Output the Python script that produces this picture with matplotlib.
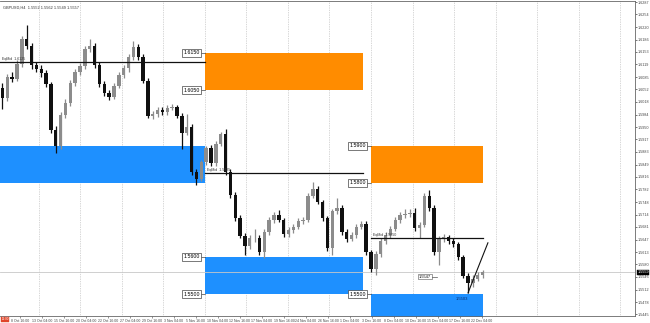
import numpy as np
import matplotlib
matplotlib.use("Agg")
import matplotlib.pyplot as plt

plt.rcParams["font.family"] = ["Liberation Sans", "DejaVu Sans"]

# GBPUSD H4 candles
opens = [1.6056, 1.6029, 1.6086, 1.6081, 1.6121, 1.6189, 1.6170, 1.6118, 1.6108, 1.6097,
         1.6067, 1.5943, 1.5900, 1.5983, 1.6016, 1.6070, 1.6099, 1.6116, 1.6162, 1.6170,
         1.6118, 1.6067, 1.6043, 1.6032, 1.6062, 1.6091, 1.6110, 1.6140, 1.6167, 1.6140,
         1.6075, 1.5981, 1.5986, 1.5997, 1.5991, 1.6002, 1.6005, 1.5981, 1.5935, 1.5951,
         1.5829, 1.5811, 1.5856, 1.5894, 1.5854, 1.5905, 1.5932, 1.5829, 1.5767, 1.5705,
         1.5657, 1.5630, 1.5651, 1.5651, 1.5613, 1.5667, 1.5700, 1.5713, 1.5700, 1.5662,
         1.5673, 1.5681, 1.5697, 1.5700, 1.5765, 1.5784, 1.5748, 1.5705, 1.5624, 1.5724,
         1.5732, 1.5667, 1.5649, 1.5659, 1.5681, 1.5689, 1.5613, 1.5568, 1.5608, 1.5643,
         1.5659, 1.5676, 1.5700, 1.5713, 1.5716, 1.5719, 1.5678, 1.5686, 1.5765, 1.5732,
         1.5613, 1.5649, 1.5654, 1.5643, 1.5635, 1.5600, 1.5549, 1.5530, 1.5541, 1.5551]
highs = [1.6068, 1.6092, 1.6098, 1.6130, 1.6195, 1.6226, 1.6178, 1.6126, 1.6117, 1.6104,
         1.6072, 1.5952, 1.5990, 1.6025, 1.6078, 1.6107, 1.6124, 1.6170, 1.6188, 1.6176,
         1.6125, 1.6074, 1.6050, 1.6070, 1.6098, 1.6118, 1.6148, 1.6182, 1.6174, 1.6146,
         1.6082, 1.5994, 1.6005, 1.6004, 1.6010, 1.6012, 1.6011, 1.5988, 1.5985, 1.5958,
         1.5836, 1.5862, 1.5900, 1.5902, 1.5912, 1.5938, 1.5945, 1.5836, 1.5774, 1.5712,
         1.5664, 1.5660, 1.5675, 1.5658, 1.5674, 1.5708, 1.5720, 1.5727, 1.5706, 1.5680,
         1.5688, 1.5704, 1.5708, 1.5772, 1.5803, 1.5790, 1.5754, 1.5711, 1.5730, 1.5760,
         1.5739, 1.5674, 1.5666, 1.5690, 1.5698, 1.5696, 1.5620, 1.5615, 1.5650, 1.5666,
         1.5684, 1.5708, 1.5722, 1.5728, 1.5730, 1.5732, 1.5695, 1.5772, 1.5781, 1.5739,
         1.5656, 1.5662, 1.5660, 1.5650, 1.5641, 1.5606, 1.5556, 1.5550, 1.5560, 1.5566]
lows = [1.6000, 1.6020, 1.6072, 1.6074, 1.6112, 1.6160, 1.6108, 1.6098, 1.6086, 1.6058,
        1.5935, 1.5880, 1.5892, 1.5975, 1.6006, 1.6060, 1.6090, 1.6108, 1.6152, 1.6110,
        1.6058, 1.6035, 1.6022, 1.6025, 1.6055, 1.6082, 1.6100, 1.6132, 1.6130, 1.6068,
        1.5975, 1.5972, 1.5978, 1.5982, 1.5984, 1.5995, 1.5974, 1.5890, 1.5928, 1.5822,
        1.5793, 1.5804, 1.5848, 1.5846, 1.5846, 1.5898, 1.5822, 1.5760, 1.5697, 1.5650,
        1.5606, 1.5622, 1.5640, 1.5606, 1.5598, 1.5660, 1.5692, 1.5694, 1.5655, 1.5654,
        1.5665, 1.5674, 1.5688, 1.5694, 1.5758, 1.5742, 1.5698, 1.5617, 1.5604, 1.5716,
        1.5660, 1.5641, 1.5642, 1.5652, 1.5674, 1.5606, 1.5560, 1.5550, 1.5600, 1.5636,
        1.5652, 1.5669, 1.5692, 1.5704, 1.5708, 1.5671, 1.5650, 1.5680, 1.5725, 1.5606,
        1.5578, 1.5640, 1.5636, 1.5628, 1.5593, 1.5542, 1.5503, 1.5520, 1.5534, 1.5544]
closes = [1.6029, 1.6086, 1.6081, 1.6121, 1.6189, 1.6170, 1.6118, 1.6108, 1.6097, 1.6067,
          1.5943, 1.5900, 1.5983, 1.6016, 1.6070, 1.6099, 1.6116, 1.6162, 1.6170, 1.6118,
          1.6067, 1.6043, 1.6032, 1.6062, 1.6091, 1.6110, 1.6140, 1.6167, 1.6140, 1.6075,
          1.5981, 1.5986, 1.5997, 1.5991, 1.6002, 1.6005, 1.5981, 1.5935, 1.5951, 1.5829,
          1.5811, 1.5856, 1.5894, 1.5854, 1.5905, 1.5932, 1.5829, 1.5767, 1.5705, 1.5657,
          1.5630, 1.5651, 1.5651, 1.5613, 1.5667, 1.5700, 1.5713, 1.5700, 1.5662, 1.5673,
          1.5681, 1.5697, 1.5700, 1.5765, 1.5784, 1.5748, 1.5705, 1.5624, 1.5724, 1.5732,
          1.5667, 1.5649, 1.5659, 1.5681, 1.5689, 1.5613, 1.5568, 1.5608, 1.5643, 1.5659,
          1.5676, 1.5700, 1.5713, 1.5716, 1.5719, 1.5678, 1.5686, 1.5765, 1.5732, 1.5613,
          1.5649, 1.5654, 1.5643, 1.5635, 1.5600, 1.5549, 1.5530, 1.5541, 1.5551, 1.5559]

x_labels = ["8 Oct 16:00", "13 Oct 04:00", "15 Oct 16:00", "20 Oct 04:00", "22 Oct 16:00",
            "27 Oct 04:00", "29 Oct 16:00", "3 Nov 04:00", "5 Nov 16:00", "10 Nov 04:00",
            "12 Nov 16:00", "17 Nov 04:00", "19 Nov 16:00", "24 Nov 04:00", "26 Nov 16:00",
            "1 Dec 04:00", "3 Dec 16:00", "8 Dec 04:00", "10 Dec 16:00", "15 Dec 04:00",
            "17 Dec 16:00", "22 Dec 04:00"]
price_ticks = [1.6287, 1.6254, 1.6220, 1.6186, 1.6153, 1.6119, 1.6085, 1.6052, 1.6018,
               1.5984, 1.5950, 1.5917, 1.5883, 1.5849, 1.5816, 1.5782, 1.5748, 1.5714,
               1.5681, 1.5647, 1.5613, 1.5580, 1.5546, 1.5512, 1.5478, 1.5445]

# supply / demand zones (bar index start/end, price top/bottom)
zone_x0 = [-0.5, 41.8, 41.8, 76.0, 76.0]
zone_x1 = [41.8, 74.3, 74.3, 99.1, 99.1]
zone_top = [1.5900, 1.6150, 1.5600, 1.5900, 1.5500]
zone_bot = [1.5800, 1.6050, 1.5500, 1.5800, 1.5400]
zone_col = ["#1e90ff", "#ff8c00", "#1e90ff", "#ff8c00", "#1e90ff"]

# mid lines
mid_x0 = [-0.5, 41.8, 76.0]
mid_x1 = [41.8, 74.3, 99.1]
mid_price = [1.6125, 1.5825, 1.5650]

last_price = 1.5559
trend_x = [96.0, 100.1]
trend_y = [1.5503, 1.5638]

fig = plt.figure(figsize=(6.5, 3.23), dpi=100)
ax = fig.add_axes([0, 1 - 316 / 323, 635 / 650, 315 / 323])
ax.set_xlim(-0.5, 130.43)
ax.set_ylim(1.54407, 1.62902)

# vertical dotted grid
for gx in np.arange(7.54, 131, 8.557):
    ax.axvline(gx, color="#b0b0b0", lw=0.5, ls=(0, (1, 1.5)), zorder=0)

# zones
for i in range(len(zone_top)):
    ax.fill_between([zone_x0[i], zone_x1[i]], zone_bot[i], zone_top[i],
                    color=zone_col[i], lw=0, zorder=1)

# current price line
ax.axhline(last_price, color="#c8c8c8", lw=0.6, zorder=1.5)

# candles
x = np.arange(len(opens))
o = np.array(opens)
c = np.array(closes)
up = c >= o
cols = np.where(up, "#8c8c8c", "#101010")
ax.vlines(x, lows, highs, colors=cols, lw=0.9, zorder=3)
body = np.maximum(np.abs(c - o), 0.00012)
ax.bar(x, body, bottom=np.minimum(o, c), width=0.7, color=cols, lw=0, zorder=3)

# mid lines with labels
for i in range(len(mid_price)):
    ax.plot([mid_x0[i], mid_x1[i]], [mid_price[i], mid_price[i]], color="#111111", lw=0.9, zorder=4)
    ax.text(mid_x0[i] + 0.4, mid_price[i] + 0.0004, "EqMid  %.4f" % mid_price[i],
            fontsize=2.6, color="#333333", va="bottom", ha="left", zorder=5)

# zone price labels
box = dict(boxstyle="square,pad=0.25", fc="white", ec="#444444", lw=0.5)
for i in range(1, len(zone_top)):
    levels = [zone_top[i]] if zone_bot[i] < 1.5441 else [zone_top[i], zone_bot[i]]
    for lv in levels:
        ax.plot([zone_x0[i] - 0.9, zone_x0[i]], [lv, lv], color="#444444", lw=0.5, zorder=5)
        ax.text(zone_x0[i] - 1.1, lv, "%.4f" % lv, fontsize=3.8, ha="right", va="center",
                bbox=box, zorder=6)

# trend line
ax.plot(trend_x, trend_y, color="#111111", lw=0.8, zorder=4)

# small markers near the end
ax.text(88.4, 1.5547, "1.5547", fontsize=2.8, ha="right", va="center",
        bbox=dict(boxstyle="square,pad=0.2", fc="white", ec="#555555", lw=0.4), zorder=6)
ax.plot([88.6, 89.6], [1.5547, 1.5547], color="#555555", lw=0.5, zorder=6)
ax.text(94.8, 1.5487, "1.5503", fontsize=3.0, ha="center", va="center", color="#0a2a6a", zorder=6)

# header
ax.text(0.004, 0.985, "GBPUSD,H4  1.5552 1.5562 1.5549 1.5557", transform=ax.transAxes,
        fontsize=2.8, color="#333333", va="top", ha="left")

# axes styling
ax.spines["left"].set_visible(False)
for s in ["top", "right", "bottom"]:
    ax.spines[s].set_color("#666666")
    ax.spines[s].set_linewidth(0.6)
ax.yaxis.tick_right()
ax.set_yticks(price_ticks)
ax.set_yticklabels(["%.4f" % v for v in price_ticks])
ax.tick_params(axis="y", labelsize=2.7, length=1.5, width=0.5, pad=0.6, colors="#444444")
ax.set_xticks(3.62 + 4.536 * np.arange(len(x_labels)))
ax.set_xticklabels(x_labels)
ax.tick_params(axis="x", labelsize=2.5, length=1.5, width=0.4, pad=0.8, colors="#444444")

# last price tag on the axis
ax.text(1.0035, last_price, "%.4f" % last_price, transform=ax.get_yaxis_transform(),
        fontsize=2.7, color="white", va="center", ha="left",
        bbox=dict(boxstyle="square,pad=0.12", fc="black", ec="black", lw=0.3), zorder=7, clip_on=False)

# red marker bottom-left
fig.text(0.002, 0.006, "12:00", fontsize=2.2, color="white", va="bottom", ha="left",
         bbox=dict(boxstyle="square,pad=0.15", fc="#e0452a", ec="#e0452a", lw=0.3))

fig.savefig("out.png", dpi=100, facecolor="white")
